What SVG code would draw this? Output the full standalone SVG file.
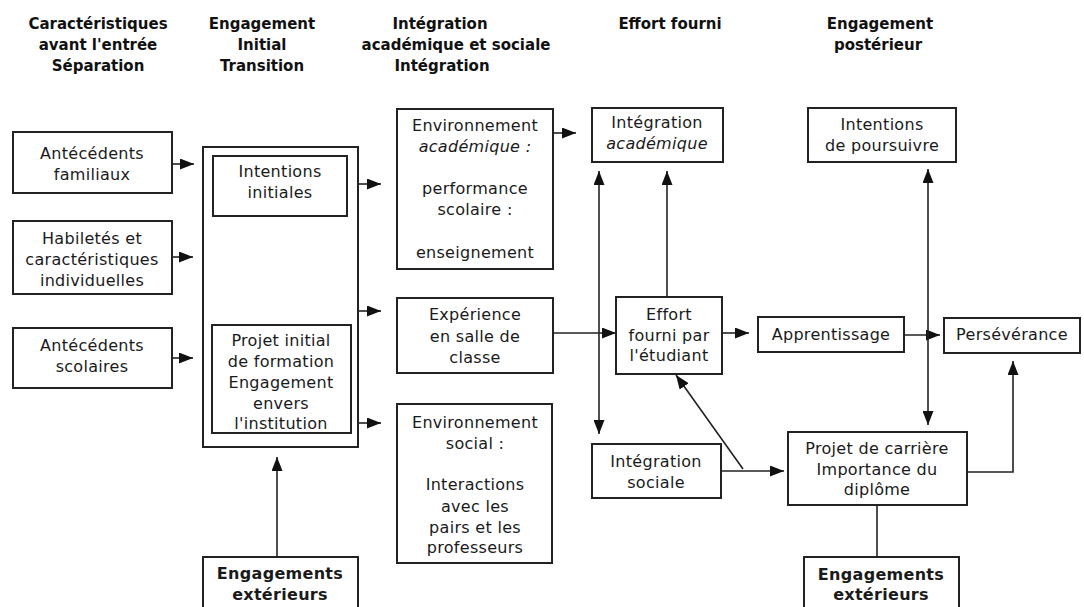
<svg xmlns="http://www.w3.org/2000/svg" width="1084" height="607" viewBox="0 0 1084 607">
<defs>
<marker id="ah" markerUnits="userSpaceOnUse" markerWidth="15" markerHeight="11" refX="14" refY="5.5" orient="auto-start-reverse">
<path d="M0,0 L14,5.5 L0,11 z" fill="#111"/>
</marker>
</defs>
<style>
.box{fill:#fff;stroke:#222;stroke-width:2}
.t{font-family:"DejaVu Sans",sans-serif;font-size:16px;fill:#1a1a1a;text-anchor:middle;letter-spacing:0.3px}
.b{font-weight:bold}
.h{font-family:"DejaVu Sans",sans-serif;font-size:15px;font-weight:bold;fill:#111;text-anchor:middle}
.c{fill:none;stroke:#222;stroke-width:1.6}
.i{font-style:italic}
</style>
<rect width="1084" height="607" fill="#fff"/>
<g id="headers">
<text class="h" x="98" y="29">Caractéristiques</text>
<text class="h" x="98" y="50">avant l'entrée</text>
<text class="h" x="98" y="71">Séparation</text>
<text class="h" x="262" y="29">Engagement</text>
<text class="h" x="262" y="50">Initial</text>
<text class="h" x="262" y="71">Transition</text>
<text class="h" x="440" y="29">Intégration</text>
<text class="h" x="456" y="50">académique et sociale</text>
<text class="h" x="442" y="71">Intégration</text>
<text class="h" x="670" y="29">Effort fourni</text>
<text class="h" x="880" y="29">Engagement</text>
<text class="h" x="878" y="50">postérieur</text>
</g>
<g id="connectors">
<line class="c" x1="172" y1="164" x2="194" y2="164" marker-end="url(#ah)"/>
<line class="c" x1="172" y1="257" x2="193" y2="257" marker-end="url(#ah)"/>
<line class="c" x1="172" y1="358" x2="193" y2="358" marker-end="url(#ah)"/>
<line class="c" x1="358" y1="184" x2="381" y2="184" marker-end="url(#ah)"/>
<line class="c" x1="358" y1="311" x2="381" y2="311" marker-end="url(#ah)"/>
<line class="c" x1="358" y1="423" x2="381" y2="423" marker-end="url(#ah)"/>
<line class="c" x1="553" y1="133" x2="576" y2="133" marker-end="url(#ah)"/>
<line class="c" x1="553" y1="333" x2="616" y2="333" marker-end="url(#ah)"/>
<line class="c" x1="599" y1="171" x2="599" y2="434" marker-start="url(#ah)" marker-end="url(#ah)"/>
<line class="c" x1="667" y1="297" x2="667" y2="171" marker-end="url(#ah)"/>
<line class="c" x1="722" y1="333" x2="749" y2="333" marker-end="url(#ah)"/>
<line class="c" x1="904" y1="335" x2="940" y2="335" marker-end="url(#ah)"/>
<line class="c" x1="928" y1="169" x2="928" y2="425" marker-start="url(#ah)" marker-end="url(#ah)"/>
<line class="c" x1="721" y1="471" x2="784" y2="471" marker-end="url(#ah)"/>
<line class="c" x1="743" y1="469" x2="676" y2="375" marker-end="url(#ah)"/>
<line class="c" x1="877" y1="505" x2="877" y2="557"/>
<polyline class="c" points="967,472 1013,472 1013,361" marker-end="url(#ah)"/>
<line class="c" x1="277" y1="557" x2="277" y2="457" marker-end="url(#ah)"/>
</g>
<g id="antecedents-familiaux">
<rect class="box" x="13" y="132" width="159" height="61"/>
<text class="t" x="92" y="159">Antécédents</text>
<text class="t" x="92" y="180">familiaux</text>
</g>
<g id="habiletes">
<rect class="box" x="13" y="221" width="159" height="73"/>
<text class="t" x="92" y="244">Habiletés et</text>
<text class="t" x="92" y="265">caractéristiques</text>
<text class="t" x="92" y="286">individuelles</text>
</g>
<g id="antecedents-scolaires">
<rect class="box" x="13" y="328" width="159" height="60"/>
<text class="t" x="92" y="351">Antécédents</text>
<text class="t" x="92" y="372">scolaires</text>
</g>
<g id="engagement-initial">
<rect class="box" x="203" y="147" width="155" height="300"/>
</g>
<g id="intentions-initiales">
<rect class="box" x="213" y="156" width="134" height="60"/>
<text class="t" x="280" y="177">Intentions</text>
<text class="t" x="280" y="198">initiales</text>
</g>
<g id="projet-initial">
<rect class="box" x="212" y="325" width="139" height="108"/>
<text class="t" x="281" y="346">Projet initial</text>
<text class="t" x="281" y="367">de formation</text>
<text class="t" x="281" y="388">Engagement</text>
<text class="t" x="281" y="409">envers</text>
<text class="t" x="281" y="429">l'institution</text>
</g>
<g id="engagements-exterieurs-1">
<rect class="box" x="203" y="557" width="155" height="60"/>
<text class="t b" x="280" y="579">Engagements</text>
<text class="t b" x="280" y="600">extérieurs</text>
</g>
<g id="env-academique">
<rect class="box" x="397" y="109" width="156" height="160"/>
<text class="t" x="475" y="131">Environnement</text>
<text class="t i" x="475" y="152">académique :</text>
<text class="t" x="475" y="194">performance</text>
<text class="t" x="475" y="215">scolaire :</text>
<text class="t" x="475" y="258">enseignement</text>
</g>
<g id="experience">
<rect class="box" x="397" y="298" width="156" height="75"/>
<text class="t" x="475" y="320">Expérience</text>
<text class="t" x="475" y="342">en salle de</text>
<text class="t" x="475" y="363">classe</text>
</g>
<g id="env-social">
<rect class="box" x="397" y="404" width="155" height="159"/>
<text class="t" x="475" y="428">Environnement</text>
<text class="t" x="475" y="449">social :</text>
<text class="t" x="475" y="490">Interactions</text>
<text class="t" x="475" y="512">avec les</text>
<text class="t" x="475" y="533">pairs et les</text>
<text class="t" x="475" y="553">professeurs</text>
</g>
<g id="integration-academique">
<rect class="box" x="592" y="108" width="131" height="54"/>
<text class="t" x="657" y="128">Intégration</text>
<text class="t i" x="657" y="149">académique</text>
</g>
<g id="effort">
<rect class="box" x="616" y="297" width="106" height="77"/>
<text class="t" x="669" y="320">Effort</text>
<text class="t" x="669" y="341">fourni par</text>
<text class="t" x="669" y="361">l'étudiant</text>
</g>
<g id="integration-sociale">
<rect class="box" x="592" y="444" width="129" height="54"/>
<text class="t" x="656" y="467">Intégration</text>
<text class="t" x="656" y="488">sociale</text>
</g>
<g id="intentions-poursuivre">
<rect class="box" x="808" y="108" width="148" height="54"/>
<text class="t" x="882" y="130">Intentions</text>
<text class="t" x="882" y="151">de poursuivre</text>
</g>
<g id="apprentissage">
<rect class="box" x="758" y="317" width="146" height="35"/>
<text class="t" x="831" y="340">Apprentissage</text>
</g>
<g id="perseverance">
<rect class="box" x="944" y="318" width="136" height="35"/>
<text class="t" x="1012" y="340">Persévérance</text>
</g>
<g id="projet-carriere">
<rect class="box" x="788" y="432" width="179" height="73"/>
<text class="t" x="877" y="454">Projet de carrière</text>
<text class="t" x="877" y="475">Importance du</text>
<text class="t" x="877" y="495">diplôme</text>
</g>
<g id="engagements-exterieurs-2">
<rect class="box" x="804" y="557" width="155" height="60"/>
<text class="t b" x="881" y="580">Engagements</text>
<text class="t b" x="881" y="600">extérieurs</text>
</g>
</svg>
